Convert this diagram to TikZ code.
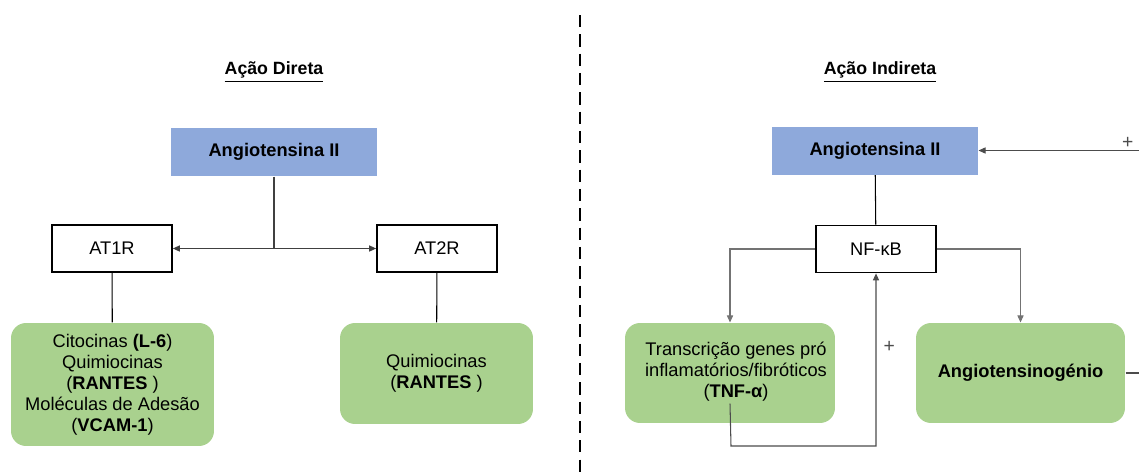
\documentclass[tikz,border=0pt]{standalone}
\usepackage{fontspec}
\setmainfont{Liberation Sans}
\usetikzlibrary{arrows.meta,positioning}
\definecolor{angblue}{RGB}{142,169,219}
\definecolor{leafgreen}{RGB}{169,209,142}

\begin{document}
\begin{tikzpicture}[x=0.02cm, y=-0.02cm, >={Triangle[length=4pt,width=3.5pt]}, line width=0.6pt,
  font=\fontsize{10.4pt}{11.9pt}\selectfont,
  hormone/.style={rectangle, fill=angblue, inner sep=0pt, minimum width=4.12cm, minimum height=0.96cm, font=\fontsize{10.4pt}{11.9pt}\selectfont\bfseries},
  receptor/.style={rectangle, draw=black, line width=1pt, fill=white, inner sep=0pt, minimum width=2.4cm, minimum height=0.94cm},
  effect/.style={rectangle, rounded corners=0.3cm, fill=leafgreen, inner sep=0pt, align=center},
  title/.style={font=\fontsize{10.1pt}{11.9pt}\selectfont\bfseries},
  sign/.style={font=\fontsize{11pt}{12pt}\selectfont, inner sep=1pt}]
\useasboundingbox (0,0) rectangle (1139,474);
% separador
\draw[line width=1.2pt, dash pattern=on 7pt off 4pt] (580,15) -- (580,474);
\node[title] (tdir) at (274,72) {\underline{Ação Direta}};
\node[title] (tind) at (880,72) {\underline{Ação Indireta}};

% acao direta
\node[hormone] (ang1) at (274,152) {Angiotensina II};
\node[receptor] (at1) at (112,248.5) {AT1R};
\node[receptor] (at2) at (437,248.5) {AT2R};
\node[effect, minimum width=4.06cm, minimum height=2.46cm] (cit) at (112.5,384.5)
  {Citocinas \textbf{(L-6})\\Quimiocinas\\(\textbf{RANTES} )\\Moléculas de Adesão\\(\textbf{VCAM-1})};
\node[effect, minimum width=3.86cm, minimum height=2.02cm] (qui) at (436.5,373.5)
  {Quimiocinas\\(\textbf{RANTES} )};
\coordinate (jn) at (ang1 |- at1);
\draw[black!75] (ang1) -- (jn);
\draw[->, black!75] (jn) -- (at1);
\draw[->, black!75] (jn) -- (at2);
\draw (at1) -- (cit);
\draw (at2) -- (qui);

% acao indireta
\node[hormone] (ang2) at (875,150.5) {Angiotensina II};
\node[receptor] (nf) at (876,249) {NF-κB};
\node[effect, minimum width=4.2cm, minimum height=2cm] (tr) at (730,373) {};
\node[align=center] (trtxt) at (736,372) {Transcrição genes pró\\inflamatórios/fibróticos\\(\textbf{TNF-α})};
\node[effect, minimum width=4.18cm, minimum height=2cm, font=\fontsize{10.4pt}{11.9pt}\selectfont\bfseries] (agt) at (1020.5,373) {Angiotensinogénio};
\draw (ang2) -- (nf);
\draw[->, black!55] (nf.west) -| (tr.north);
\draw[->, black!55] (nf.east) -| (agt.north);
\coordinate (fb) at (731,446);
\draw[->, black!70] ([yshift=11.3pt]tr.south) -- (fb) -| node[sign, pos=0.786, right=3pt] {+} (nf.south);
\coordinate (rc) at (1150,373);
\draw[->, black!70] (agt.east) -- (rc) |- node[sign, pos=0.565, above=0pt] {+} (ang2.east);
\end{tikzpicture}
\end{document}
